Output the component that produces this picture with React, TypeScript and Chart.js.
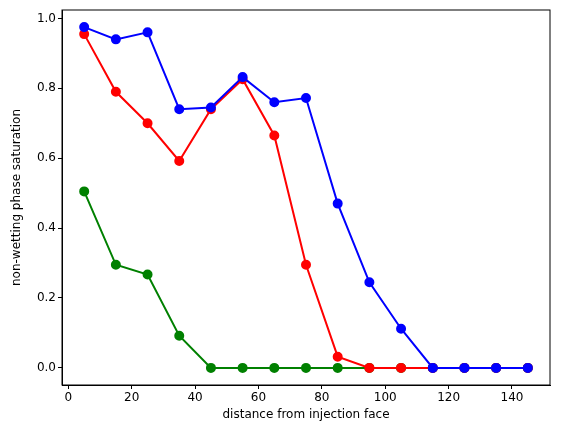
import React, { useEffect, useRef } from 'react';
import Chart from 'chart.js/auto';

const distances = [5, 15, 25, 35, 45, 55, 65, 75, 85, 95, 105, 115, 125, 135, 145];
const blueSat = [0.975, 0.94, 0.96, 0.74, 0.745, 0.832, 0.76, 0.772, 0.47, 0.245, 0.112, 0, 0, 0, 0];
const redSat = [0.955, 0.79, 0.70, 0.592, 0.74, 0.826, 0.665, 0.295, 0.032, 0, 0, 0, 0, 0, 0];
const greenSat = [0.505, 0.295, 0.267, 0.092, 0, 0, 0, 0, 0, 0, 0, 0, 0, 0, 0];
const xTicks = [0, 20, 40, 60, 80, 100, 120, 140];
const yTicks = [0, 0.2, 0.4, 0.6, 0.8, 1.0];

const series = [
  { values: blueSat, color: '#0000ff' },
  { values: redSat, color: '#ff0000' },
  { values: greenSat, color: '#008000' },
];

const font = { family: 'DejaVu Sans', size: 12 };

const App: React.FC = () => {
  const ref = useRef<HTMLCanvasElement>(null);

  useEffect(() => {
    if (!ref.current) return;
    const chart = new Chart(ref.current, {
      type: 'scatter',
      data: {
        datasets: series.map((s) => ({
          data: distances.map((d, i) => ({ x: d, y: s.values[i] })),
          showLine: true,
          borderColor: s.color,
          backgroundColor: s.color,
          borderWidth: 2,
          pointRadius: 4,
          pointHoverRadius: 4,
        })),
      },
      options: {
        animation: false,
        responsive: false,
        layout: { padding: { top: 10, right: 17, left: 10, bottom: 10 } },
        plugins: { legend: { display: false }, tooltip: { enabled: false } },
        scales: {
          x: {
            type: 'linear',
            min: -2,
            max: 152,
            afterBuildTicks: (s: any) => { s.ticks = xTicks.map((v) => ({ value: v })); },
            afterFit: (s: any) => { s.height = 37; },
            grid: { drawOnChartArea: false, tickLength: 4, color: '#000' },
            border: { color: '#000' },
            ticks: { color: '#000', font, padding: 2 },
            title: { display: true, text: 'distance from injection face', color: '#000', font, padding: 0 },
          },
          y: {
            min: -0.049,
            max: 1.024,
            afterBuildTicks: (s: any) => { s.ticks = yTicks.map((v) => ({ value: v })); },
            afterFit: (s: any) => { s.width = 52; },
            grid: { drawOnChartArea: false, tickLength: 4, color: '#000' },
            border: { color: '#000' },
            ticks: { color: '#000', font, padding: 2, callback: (v: any) => Number(v).toFixed(1) },
            title: { display: true, text: 'non-wetting phase saturation', color: '#000', font, padding: 0 },
          },
        },
      },
      plugins: [{
        id: 'frame',
        afterDraw: (c: any) => {
          const { ctx, chartArea: a } = c;
          ctx.save();
          ctx.strokeStyle = '#000';
          ctx.lineWidth = 1;
          ctx.strokeRect(a.left, a.top, a.right - a.left, a.bottom - a.top);
          ctx.restore();
        },
      }],
    });
    return () => chart.destroy();
  }, []);

  return <canvas ref={ref} width={567} height={432} style={{ display: 'block', position: 'absolute', left: 0, top: 0 }} />;
};

export default App;
